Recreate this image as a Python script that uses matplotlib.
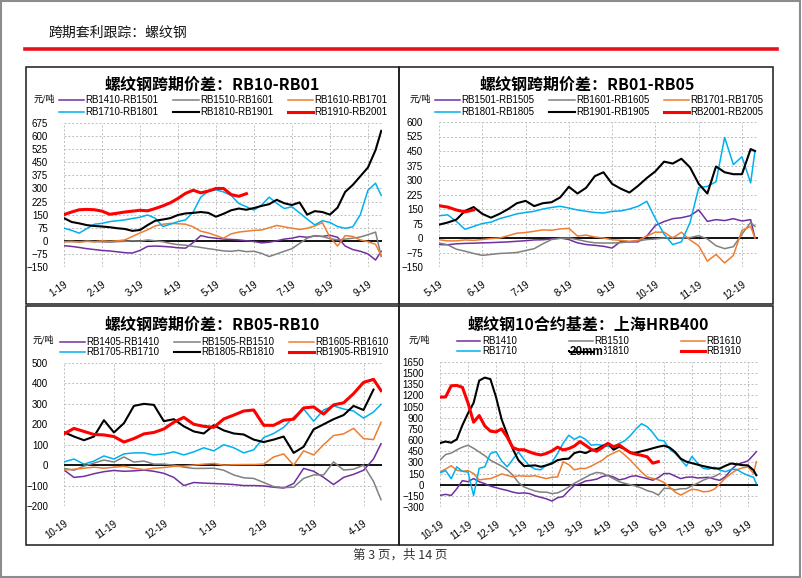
import numpy as np
import matplotlib
matplotlib.use("Agg")
import matplotlib.pyplot as plt
from matplotlib.lines import Line2D
from matplotlib.patches import Rectangle

plt.rcParams['font.family'] = ['Liberation Sans', 'Noto Sans CJK SC', 'DejaVu Sans']

W, H = 802, 578
STEP = 0.2   # months between samples

# ── DATA: panel 1  RB10-RB01 ────────────────────────────────
p1_labels = ["RB1410-RB1501", "RB1510-RB1601", "RB1610-RB1701",
             "RB1710-RB1801", "RB1810-RB1901", "RB1910-RB2001"]
p1_xticks = ["1-19", "2-19", "3-19", "4-19", "5-19", "6-19", "7-19", "8-19", "9-19"]
p1_yticks = [-150, -75, 0, 75, 150, 225, 300, 375, 450, 525, 600, 675]
p1_purple = [-28, -32, -38, -45, -50, -55, -58, -63, -68, -70, -55, -32, -30, -32, -35,
             -40, -42, -10, 30, 20, 15, 10, 8, 5, 0, -4, -12, -8, 0, 10, 15, 25, 20, 28,
             25, 32, 20, -30, -50, -60, -75, -110, -60]
p1_gray = [-5, -5, -5, -3, -5, -6, -8, -5, -3, 0, -2, 5, 0, -5, -15, -22, -25, -32, -38,
           -45, -51, -58, -60, -55, -62, -60, -72, -90, -75, -60, -45, -15, 15, 30, 25, 12,
           5, 10, 15, 22, 35, 50, -90]
p1_orange = [-5, -3, -8, -2, -5, 0, -3, 0, 5, 25, 45, 63, 85, 95, 100, 98, 95, 80, 55, 45,
             30, 15, 40, 50, 55, 60, 62, 75, 88, 80, 72, 65, 72, 85, 104, 20, -30, 30, 25,
             5, -5, -20, -85]
p1_cyan = [72, 60, 44, 70, 95, 100, 110, 115, 120, 128, 135, 148, 130, 82, 95, 110, 120,
           165, 250, 285, 292, 280, 260, 214, 195, 176, 205, 250, 215, 185, 195, 160, 125,
           91, 115, 105, 82, 72, 80, 150, 290, 330, 260]
p1_black = [130, 108, 100, 90, 85, 82, 78, 72, 68, 57, 62, 90, 115, 122, 130, 148, 157, 160,
            165, 160, 138, 155, 175, 185, 178, 188, 200, 210, 235, 215, 205, 220, 150, 170,
            165, 150, 190, 280, 320, 370, 420, 520, 630]
p1_red = [150, 165, 178, 180, 178, 170, 152, 158, 165, 170, 175, 172, 185, 200, 218, 243,
          272, 290, 275, 285, 300, 300, 265, 255, 270]

# ── DATA: panel 2  RB01-RB05 ────────────────────────────────
p2_labels = ["RB1501-RB1505", "RB1601-RB1605", "RB1701-RB1705",
             "RB1801-RB1805", "RB1901-RB1905", "RB2001-RB2005"]
p2_xticks = ["5-19", "6-19", "7-19", "8-19", "9-19", "10-19", "11-19", "12-19"]
p2_yticks = [-150, -75, 0, 75, 150, 225, 300, 375, 450, 525, 600]
p2_purple = [-34, -35, -30, -28, -27, -25, -24, -22, -20, -17, -14, -10, -9, -5, 0, -8, -25,
             -34, -38, -43, -52, -17, -20, -20, 10, 65, 85, 100, 105, 115, 145, 86, 95, 90,
             100, 88, 95, 0]
p2_gray = [-26, -35, -58, -68, -80, -90, -85, -80, -78, -75, -65, -55, -30, -8, -2, 0, -8,
           -18, -25, -26, -26, -24, -20, -15, -8, -5, 0, 3, 0, 2, 12, -5, -40, -55, -45, 20,
           80, 60]
p2_orange = [-9, -15, -15, -10, -12, -8, -3, 0, 12, 25, 28, 35, 42, 40, 47, 50, 10, 15, 5, 0,
             -9, -12, -17, -12, 10, 30, 30, 0, 30, -10, -40, -120, -85, -129, -90, 40, 60, 0]
p2_cyan = [115, 120, 86, 45, 60, 75, 82, 100, 112, 125, 132, 138, 150, 158, 164, 155, 145,
           138, 132, 129, 138, 140, 150, 164, 190, 100, 20, -34, -20, 80, 260, 267, 291, 520,
           380, 420, 285, 450]
p2_black = [69, 80, 95, 140, 160, 125, 105, 125, 150, 180, 192, 165, 180, 185, 210, 265, 230,
            260, 320, 340, 280, 255, 235, 270, 310, 345, 395, 385, 410, 365, 280, 230, 370,
            340, 330, 330, 460, 450]
p2_red = [167, 160, 145, 135, 145]

# ── DATA: panel 3  RB05-RB10 ────────────────────────────────
p3_labels = ["RB1405-RB1410", "RB1505-RB1510", "RB1605-RB1610",
             "RB1705-RB1710", "RB1805-RB1810", "RB1905-RB1910"]
p3_xticks = ["10-19", "11-19", "12-19", "1-19", "2-19", "3-19", "4-19"]
p3_yticks = [-200, -100, 0, 100, 200, 300, 400, 500]
p3_purple = [-24, -60, -55, -42, -32, -26, -30, -28, -24, -30, -40, -60, -100, -85, -88, -90,
             -92, -95, -100, -100, -102, -108, -112, -90, -16, -30, -60, -95, -60, -45, -25,
             30, 105]
p3_gray = [-16, -25, -5, 10, 25, 15, 40, 15, 20, 5, 5, 0, -10, -16, -16, -15, -25, -48, -62,
           -65, -85, -105, -110, -108, -65, -48, -48, 16, -24, -20, 0, -80, -169]
p3_orange = [-24, -20, -15, -10, -15, -10, -6, -15, -22, -15, -12, -6, -5, 0, 5, 8, 0, 2, 3, 3,
             5, 40, 55, 0, 70, 50, 100, 145, 153, 180, 130, 125, 210]
p3_cyan = [16, 30, 5, 20, 45, 30, 55, 60, 60, 50, 55, 65, 50, 65, 85, 70, 100, 85, 60, 75, 135,
           155, 185, 235, 275, 215, 270, 290, 275, 265, 230, 260, 298]
p3_black = [161, 140, 122, 140, 220, 160, 205, 290, 300, 295, 215, 225, 190, 165, 155, 195,
            170, 155, 150, 125, 113, 125, 140, 60, 90, 175, 200, 225, 245, 290, 270, 370]
p3_red = [153, 180, 165, 150, 148, 140, 113, 130, 153, 160, 177, 210, 234, 200, 190, 185, 226,
          245, 265, 270, 195, 195, 220, 225, 280, 285, 250, 295, 305, 350, 405, 420, 365]

# ── DATA: panel 4  10合约基差 上海HRB400 ───────────────────
p4_labels = ["RB1410", "RB1510", "RB1610", "RB1710", "RB1810", "RB1910"]
p4_xticks = ["10-19", "11-19", "12-19", "1-19", "2-19", "3-19", "4-19", "5-19", "6-19",
             "7-19", "8-19", "9-19"]
p4_yticks = [-300, -150, 0, 150, 300, 450, 600, 750, 900, 1050, 1200, 1350, 1500, 1650]
p4_purple = [-145, -130, -145, -54, 55, 40, 82, 40, 14, -20, -40, -60, -77, -100, -115, -110,
             -120, -150, -170, -190, -220, -175, -160, -80, -9, 14, 50, 60, 75, 110, 125, 104,
             65, 80, 110, 120, 100, 82, 60, 95, 150, 150, 115, 82, 100, 104, 90, 95, 100, 75,
             59, 110, 200, 270, 295, 320, 400, 445]
p4_gray = [332, 405, 425, 468, 505, 530, 490, 440, 390, 330, 290, 250, 200, 130, 30, -30, -60,
           -85, -100, -100, -120, -110, -75, -30, 20, 59, 100, 140, 165, 155, 120, 80, 40, 18,
           0, -20, -45, -80, -100, -140, -50, -50, -70, -54, -54, -15, 20, 60, 90, 110, 150]
p4_orange = [172, 210, 255, 195, 180, 190, 150, 65, 75, 82, 110, 145, 125, 105, 120, 115, 115,
             120, 100, 82, 100, 104, 309, 270, 200, 218, 218, 250, 290, 330, 390, 425, 460, 400,
             330, 250, 170, 104, 85, 65, 30, -30, -100, -140, -100, -60, -70, -95, -90, -60,
             14, 90, 150, 200, 225, 240, 150, 309]
p4_cyan = [159, 190, 80, 240, 180, 170, -145, 220, 240, 420, 445, 320, 240, 340, 440, 340, 250,
           210, 200, 263, 300, 420, 559, 665, 610, 650, 610, 530, 540, 530, 513, 515, 555, 590,
           660, 750, 820, 780, 700, 600, 590, 480, 420, 340, 250, 380, 290, 220, 210, 235, 195,
           175, 205, 205, 160, 125, 100, 14]
p4_black = [560, 580, 565, 610, 800, 960, 1100, 1400, 1440, 1420, 1180, 880, 680, 480, 330,
            250, 255, 260, 241, 260, 285, 330, 345, 350, 425, 445, 425, 460, 480, 520, 555, 470,
            510, 480, 430, 430, 450, 468, 490, 510, 525, 500, 440, 350, 310, 290, 270, 250,
            235, 218, 218, 255, 285, 275, 263, 260, 195, 127]
p4_red = [1177, 1180, 1330, 1335, 1310, 1100, 840, 930, 790, 720, 710, 750, 640, 500, 470, 470,
          440, 415, 400, 420, 455, 505, 468, 485, 520, 580, 530, 475, 450, 500, 555, 510, 535,
          480, 430, 410, 395, 375, 290, 310]

COLORS = ["#7030A0", "#808080", "#ED7D31", "#00B0F0", "#000000", "#FF0000"]
WIDTHS = [1.1, 1.1, 1.1, 1.1, 1.5, 2.2]


def fx(x):
    return x / W


def fy(y):
    return 1 - y / H


fig = plt.figure(figsize=(W / 100, H / 100), dpi=100)

# page frame, header, footer
fig.add_artist(Rectangle((0.001, 0.002), 0.997, 0.996, transform=fig.transFigure,
                         fill=False, edgecolor="#8c8c8c", lw=1.5))
fig.text(fx(48), fy(33), "跨期套利跟踪：螺纹钢", family=["Noto Sans CJK SC"],
         fontsize=10, va="center", ha="left", color="#111111")
fig.add_artist(Line2D([fx(25), fx(777)], [fy(49), fy(49)], color="#E8111B", lw=2.6))
fig.text(fx(400), fy(555), "第 3 页，共 14 页", family=["Noto Sans CJK SC"],
         fontsize=9, ha="center", va="center", color="#333333")
for (l, t, r, b) in [(26, 67, 399, 304), (399, 67, 773, 304),
                     (26, 306, 399, 545), (399, 306, 773, 545)]:
    fig.add_artist(Rectangle((fx(l), fy(b)), fx(r) - fx(l), fy(t) - fy(b),
                             transform=fig.transFigure, fill=False,
                             edgecolor="#1a1a1a", lw=1.1))


def make_panel(box, xmax, x_end, series, labels, yticks, xticks, title, title_xy,
               unit_xy, leg_xy, leg_kw):
    l, t, r, b = box
    ax = fig.add_axes([fx(l), fy(b), fx(r) - fx(l), fy(t) - fy(b)])
    handles = []
    for vals, c, lw, lab in zip(series, COLORS, WIDTHS, labels):
        x = np.minimum(np.arange(len(vals)) * STEP, x_end)
        ln, = ax.plot(x, vals, color=c, lw=lw, label=lab, zorder=3,
                      solid_joinstyle="round")
        handles.append(ln)
    ax.axhline(0, color="black", lw=1.3, zorder=2)
    ax.set_xlim(0, xmax)
    ax.set_ylim(yticks[0], yticks[-1])
    ax.set_yticks(yticks)
    ax.set_xticks(range(len(xticks)))
    ax.set_xticklabels(xticks, rotation=35, ha="right", rotation_mode="anchor")
    ax.tick_params(axis="y", length=0, pad=11.5, labelsize=7)
    ax.tick_params(axis="x", length=0, pad=9, labelsize=7)
    ax.grid(True, color="#BFBFBF", linestyle=(0, (2, 2)), lw=0.7)
    for s in ax.spines.values():
        s.set_visible(False)
    fig.text(fx(title_xy[0]), fy(title_xy[1]), title, family=["Noto Sans CJK SC"],
             fontsize=11.5, fontweight="bold", ha="center", va="center")
    fig.text(fx(unit_xy[0]), fy(unit_xy[1]), "元/吨", family=["Noto Sans CJK SC"],
             fontsize=6.5, ha="center", va="center")
    # legend fills column by column: reorder so rows read purple/gray/orange, cyan/black/red
    order = [0, 3, 1, 4, 2, 5]
    ax.legend(handles=[handles[i] for i in order], ncol=3, loc="upper left",
              bbox_to_anchor=(fx(leg_xy[0]), fy(leg_xy[1])),
              bbox_transform=fig.transFigure, frameon=False, fontsize=7,
              borderpad=0, borderaxespad=0, handletextpad=0.15, **leg_kw)
    return ax


wide = dict(handlelength=2.6, columnspacing=1.5, labelspacing=0.2)
make_panel((64, 123, 382, 267), 8.37, 8.35,
           [p1_purple, p1_gray, p1_orange, p1_cyan, p1_black, p1_red], p1_labels,
           p1_yticks, p1_xticks, "螺纹钢跨期价差：RB10-RB01", (212, 85), (44, 99),
           (59, 95), wide)
make_panel((439, 122, 758, 267), 7.37, 7.3,
           [p2_purple, p2_gray, p2_orange, p2_cyan, p2_black, p2_red], p2_labels,
           p2_yticks, p2_xticks, "螺纹钢跨期价差：RB01-RB05", (587, 85), (420, 99),
           (435, 95), wide)
make_panel((64, 363, 382, 506), 6.37, 6.35,
           [p3_purple, p3_gray, p3_orange, p3_cyan, p3_black, p3_red], p3_labels,
           p3_yticks, p3_xticks, "螺纹钢跨期价差：RB05-RB10", (212, 325), (43, 340),
           (60, 337), dict(handlelength=2.6, columnspacing=1.5, labelspacing=0.05))
make_panel((440, 362, 758, 507), 11.36, 11.3,
           [p4_purple, p4_gray, p4_orange, p4_cyan, p4_black, p4_red], p4_labels,
           p4_yticks, p4_xticks, "螺纹钢10合约基差：上海HRB400", (588, 325), (419, 340),
           (457, 336), dict(handlelength=2.4, columnspacing=5.4, labelspacing=0.05))

# stray "20mm" stamp sitting on the RB1810 legend entry
fig.text(fx(570), fy(352), "20mm", fontsize=8.5, fontweight="bold", ha="left",
         va="center", zorder=4,
         bbox=dict(facecolor="white", edgecolor="none", pad=0.3))
fig.add_artist(Line2D([fx(570), fx(593)], [fy(352), fy(352)], color="black", lw=1.5,
                      zorder=5))

fig.savefig("out.png", dpi=100)
